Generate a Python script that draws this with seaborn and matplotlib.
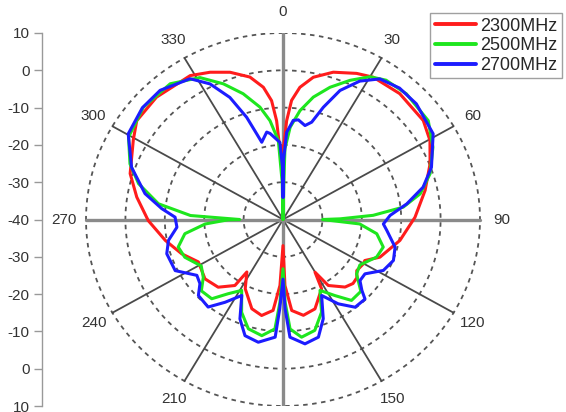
import numpy as np
import pandas as pd
import matplotlib
matplotlib.use("Agg")
import matplotlib.pyplot as plt
import seaborn as sns

# radiation pattern (angle in deg, clockwise from top; gain in dB)
ang_2300 = [0, 0.3, 0.7, 2, 3.9, 6.9, 11.4, 17.9, 25.5, 31, 41.3, 53.3, 60.4, 68.2, 77.8, 89,
            100.7, 112.3, 117.9, 120.3, 126.2, 129.8, 134, 139, 147, 150.1, 152.2, 161.3, 168.6, 174.8, 178.4, 180,
            182.5, 185.9, 191.9, 198.3, 207.3, 213.1, 214.6, 222.2, 231.2, 242.1, 250.3, 259.4, 269.5,
            279.2, 287.6, 299.4, 305.5, 315.6, 328.6, 334.9, 341.2, 347.6, 352, 354.8, 356.5, 357.3, 359.7, 360]
db_2300 = [-40, -21, -19.7, -13.5, -8, -4.3, -1.1, 1.5, 3.4, 4.5, 4.9, 4.4, 2.9, 0.2, -3.1, -6.5,
           -9.8, -13.4, -16.5, -16.4, -16.8, -15.6, -15.3, -16, -18.9, -23.7, -19, -14.7, -13.8, -15.5, -22.3, -33,
           -22.3, -15.5, -13.7, -14.8, -19.1, -23.2, -18.5, -15.5, -14.6, -15.7, -12.7, -9.6, -5.8,
           -2.4, 0.7, 3.6, 5.6, 5.9, 5.2, 3.6, 1.7, -0.9, -4.2, -8, -13.5, -19.7, -21, -40]

ang_2500 = [0, 1.2, 1.5, 4.2, 8.4, 13.2, 18.6, 24.5, 30, 35, 42.9, 54.3, 63, 71.8, 78.8, 83.8, 87.2, 89.3, 90,
            93.5, 99.1, 106.2, 113, 122, 128, 134.3, 141.3, 147.1, 153.7, 158.5, 164.8, 171.5, 176.5, 178.6, 180,
            182, 184, 189.8, 196.7, 202.9, 208.9, 215, 220.4, 227.3, 232.5, 239, 247.9, 254.5, 261.3, 266.5,
            269.7, 270, 272.6, 277.6, 284.7, 291, 299.4, 310.3, 321.8, 331, 337.4, 343.3, 349, 352.9, 356.8, 358.8, 360]
db_2500 = [-40, -30, -21, -15.2, -10.5, -6.3, -2.6, 1, 4.2, 5.6, 6, 5.4, 2.7, -0.7, -4.5, -9.3, -17.1, -25.5, -30,
           -20.5, -15.9, -13.5, -14.2, -17, -16.3, -12.4, -12.2, -15.7, -18.8, -13.3, -9.2, -8.1, -10.6, -17.8, -26.8,
           -17.8, -10.6, -8.4, -9.4, -13, -18.3, -15.7, -12.1, -11.8, -14.5, -15.8, -13.1, -12.4, -14.8, -20.2,
           -26.1, -29, -16.5, -8.1, -2.1, 1.6, 5, 6.5, 6.3, 3.5, -0.6, -4.8, -9.3, -13.3, -18.8, -30, -40]

ang_2700 = [0, 0.5, 2.3, 5.6, 8.3, 12.5, 15.6, 18.8, 22.7, 27.7, 33.1, 40, 47.5, 58.9, 69.6, 76.3, 82.4, 87.7,
            92.7, 96.3, 104.6, 111.4, 118.2, 125, 130, 133.5, 135.7, 142.1, 148.2, 154.3, 159, 164.1, 170.5, 176.8, 178.7, 180,
            182, 183.6, 190.8, 197.2, 202.3, 207.2, 213.5, 219, 226.5, 230.8, 235.6, 243.4, 252.7, 259.1, 265.6,
            271.3, 275.4, 281.2, 290, 300.3, 310, 318, 328, 333, 337.6, 341.4, 343.8, 345.4, 350, 351.9, 357.8, 359.5, 360]
db_2700 = [-34, -24, -16.6, -13.3, -13, -14.2, -12.9, -8.2, -2.5, 1.9, 5, 6, 5.9, 4.5, 0.2, -3.4, -8.3, -12.8,
           -14.5, -13.5, -10.6, -9.9, -11.1, -14.6, -14.5, -12.4, -10.2, -10.2, -13.4, -17.4, -11.5, -7.2, -6.2, -8.4, -16, -24,
           -16, -8.4, -6.5, -7.4, -11.2, -17.1, -13.4, -9.8, -10.4, -12.8, -13.5, -9.4, -9.1, -10.4, -13,
           -12.6, -9.1, -4.3, 0.9, 5.5, 6.6, 6.6, 4.5, 0.8, -4.6, -11.1, -16.1, -18.6, -16.2, -16.7, -19.3, -26, -34]

labels = ["2300MHz", "2500MHz", "2700MHz"]
colors = ["#ff1c1c", "#1ee61e", "#1c1cff"]
ring_db = [-30, -20, -10, 0, 10]
radial_ticks = [10, 0, -10, -20, -30, -40, -30, -20, -10, 0, 10]
angle_ticks = [0, 30, 60, 90, 120, 150, 180, 210, 240, 270, 300, 330]
angle_labels = ["0", "30", "60", "90", "120", "150", "", "210", "240", "270", "300", "330"]

floor_db = -40   # centre of the plot
rows = []
for lab, angs, dbs in zip(labels, [ang_2300, ang_2500, ang_2700], [db_2300, db_2500, db_2700]):
    for i, (a, d) in enumerate(zip(angs, dbs)):
        r = d - floor_db
        rows.append({"freq": lab, "i": i,
                     "x": r * np.sin(np.radians(a)), "y": r * np.cos(np.radians(a))})
df = pd.DataFrame(rows)

sns.set_style("white")
plt.rcParams["font.family"] = ["Liberation Sans", "DejaVu Sans"]

fig = plt.figure(figsize=(5.66, 4.12), dpi=100)
ax = fig.add_axes([42 / 566, 6 / 412, 524 / 566, 373 / 412])

# grid: dashed rings and spokes
t = np.linspace(0, 2 * np.pi, 400)
rmax = ring_db[-1] - floor_db
for rd in ring_db:
    r = rd - floor_db
    ax.plot(r * np.sin(t), r * np.cos(t), color="#555555", lw=1.3,
            linestyle=(0, (2.5, 2.5)), zorder=1)
for a in [30, 60, 120, 150]:
    s, c = np.sin(np.radians(a)), np.cos(np.radians(a))
    ax.plot([-rmax * s, rmax * s], [-rmax * c, rmax * c], color="#4a4a4a", lw=1.3, zorder=1)
ax.plot([0, 0], [-rmax, rmax], color="#8a8a8a", lw=2.4, zorder=1)
ax.plot([-rmax, rmax], [0, 0], color="#8a8a8a", lw=2.4, zorder=1)

for lab, col in zip(labels, colors):
    sub = df[df["freq"] == lab]
    sns.lineplot(data=sub, x="x", y="y", sort=False, estimator=None, color=col,
                 lw=2.2, label=lab, ax=ax, zorder=3, solid_joinstyle="round")

# angle labels
for a, txt in zip(angle_ticks, angle_labels):
    r = 55.5
    ax.text(r * np.sin(np.radians(a)), r * np.cos(np.radians(a)), txt, ha="center", va="center",
            fontsize=11, color="#333333", clip_on=False)

ax.set_xlim((42 - 283) / 3.94, (566 - 283) / 3.94)
ax.set_ylim(-50, 50)
ax.set_yticks(np.arange(-50, 51, 10))
ax.set_yticklabels([str(v) for v in radial_ticks[::-1]], fontsize=11, color="#333333")
ax.set_xticks([])
ax.set_xlabel("")
ax.set_ylabel("")
for side in ["top", "right", "bottom"]:
    ax.spines[side].set_visible(False)
ax.spines["left"].set_color("#999999")
ax.spines["left"].set_linewidth(1.0)
ax.tick_params(axis="y", direction="out", length=6, width=1, color="#999999", pad=3, left=True)

handles, labs = ax.get_legend_handles_labels()
leg = ax.legend(handles, labs, loc="upper left", bbox_to_anchor=(430 / 566, 1 - 13 / 412),
                bbox_transform=fig.transFigure, fontsize=13, frameon=True, fancybox=False,
                edgecolor="#888888", handlelength=2.3, handletextpad=0.25, labelspacing=0.15,
                borderpad=0.25, borderaxespad=0)
leg.get_frame().set_linewidth(1.0)
for h in leg.get_lines():
    h.set_linewidth(2.8)

fig.savefig("out.png", dpi=100)
